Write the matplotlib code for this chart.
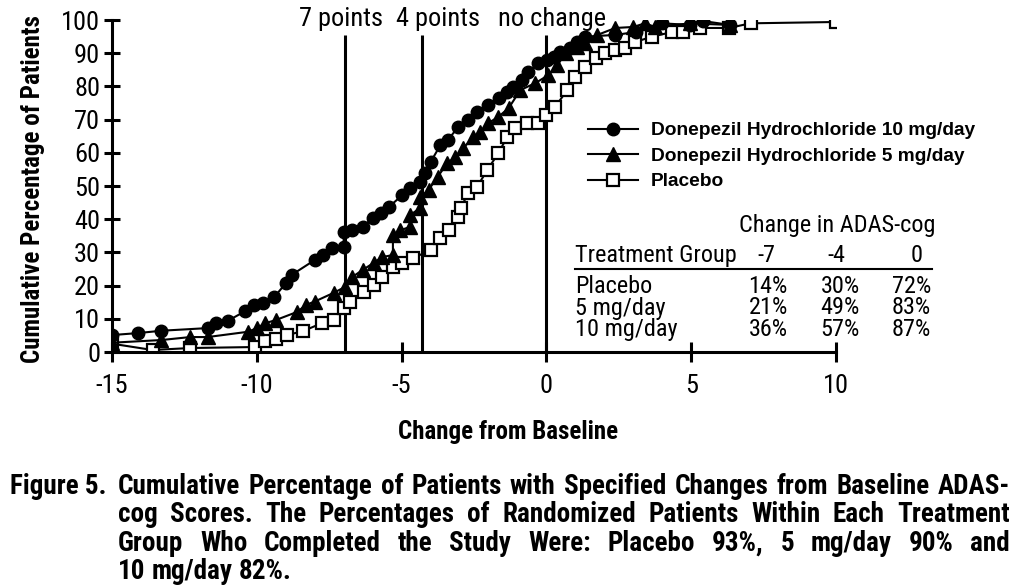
import matplotlib
matplotlib.use("Agg")
import matplotlib.pyplot as plt
from matplotlib import font_manager

# cumulative percentages
dose10_x = [-15, -14.1, -13.3, -11.7, -11.4, -11.0, -10.4, -10.1, -9.8, -9.4, -9.0, -8.8, -8.0, -7.7,
            -7.4, -7.0, -7.0, -6.7, -6.35, -6.0, -5.7, -5.45, -4.97, -4.7, -4.35, -4.2, -4.0, -3.66,
            -3.4, -3.04, -2.7, -2.4, -2.0, -1.65, -1.35, -1.14, -0.83, -0.62, -0.3, 0.03, 0.25, 0.48,
            0.83, 1.07, 1.35, 2.38, 3.1, 4.0, 4.97, 5.4, 6.35]
dose10_y = [5.1, 5.7, 6.4, 7.2, 8.6, 9.4, 12.3, 14.2, 14.9, 16.5, 20.7, 23.2, 27.7, 29.2,
            31.3, 31.6, 36.1, 36.7, 37.7, 40.3, 41.8, 43.6, 47.3, 49.3, 51.3, 53.8, 57.2, 62.3,
            63.9, 67.8, 69.9, 72.3, 74.5, 76.5, 78.4, 79.8, 81.9, 84.3, 87.0, 88.0, 88.9, 90.4,
            91.5, 93.4, 95.0, 95.5, 96.4, 99.0, 98.5, 99.7, 98.5]

dose5_x = [-15, -13.3, -12.3, -11.7, -10.3, -10.0, -9.7, -9.35, -8.6, -8.3, -8.0, -7.35, -6.95,
           -6.7, -6.35, -5.97, -5.67, -5.3, -5.3, -5.04, -4.7, -4.7, -4.35, -4.35, -4.07, -3.76,
           -3.42, -3.14, -2.87, -2.52, -2.28, -2.0, -1.66, -1.3, -0.9, -0.38, 0.07, 0.38, 0.66,
           1.07, 1.35, 1.76, 2.38, 3.0, 3.4, 3.76, 4.97, 6.35]
dose5_y = [2.8, 3.6, 4.5, 4.5, 6.1, 7.2, 8.7, 9.6, 12.1, 14.2, 15.2, 17.8, 19.6,
           22.6, 24.7, 26.8, 28.6, 29.2, 35.2, 36.7, 37.7, 41.3, 43.4, 46.7, 48.8, 52.7,
           56.9, 58.7, 61.4, 64.8, 66.3, 69.0, 70.8, 73.5, 78.9, 81.0, 83.4, 86.4, 90.0,
           91.9, 93.0, 95.5, 97.6, 97.9, 99.0, 97.9, 99.0, 98.5]

placebo_x = [-15, -13.6, -12.3, -10.05, -9.7, -9.33, -8.95, -8.4, -7.75, -7.35, -7.0, -6.77,
             -6.3, -5.97, -5.67, -5.3, -4.97, -4.6, -4.0, -3.66, -3.38, -3.04, -2.95, -2.7,
             -2.4, -2.04, -1.66, -1.35, -1.07, -0.66, -0.3, -0.03, 0.3, 0.72, 1.0, 1.35, 1.7,
             2.04, 2.38, 2.7, 3.07, 3.66, 4.35, 4.7, 5.3, 6.3, 7.05, 10.0]
placebo_y = [2.5, 0.6, 1.2, 1.5, 3.3, 3.9, 5.1, 6.3, 8.7, 9.6, 13.3, 15.1,
             18.1, 20.2, 22.6, 25.6, 26.8, 28.3, 30.7, 34.3, 36.7, 40.7, 43.5, 47.9,
             49.7, 54.8, 59.9, 64.8, 67.5, 69.0, 69.0, 71.4, 73.8, 78.9, 82.8, 85.8, 88.5,
             90.0, 91.0, 91.5, 93.4, 95.0, 96.4, 96.4, 97.6, 97.6, 99.0, 99.4]

ref_x = [-6.95, -4.3, 0]
ref_labels = ["7 points", "4 points", "no change"]
ref_label_x = [-7.08, -3.73, 0.2]

table_groups = ["Placebo", "5 mg/day", "10 mg/day"]
table_cols = ["-7", "-4", "0"]
table_vals = [["14%", "30%", "72%"],
              ["21%", "49%", "83%"],
              ["36%", "57%", "87%"]]

caption_lines = [
    "Cumulative Percentage of Patients with Specified Changes from Baseline ADAS-",
    "cog Scores. The Percentages of Randomized Patients Within Each Treatment",
    "Group Who Completed the Study Were: Placebo 93%, 5 mg/day 90% and",
    "10 mg/day 82%.",
]

W, H = 1018, 588

# pick a condensed face that has both regular and bold
weights = {}
for f in font_manager.fontManager.ttflist:
    weights.setdefault(f.name, set()).add(f.weight)
cond = "DejaVu Sans"
for cand in ["Roboto Condensed", "Liberation Sans Narrow", "Barlow Condensed", "Archivo Narrow"]:
    w = weights.get(cand, set())
    if 400 in w and 700 in w:
        cond = cand
        break
plt.rcParams["font.family"] = [cond, "DejaVu Sans"]
plt.rcParams["axes.unicode_minus"] = False


def fx(px):
    return px / W


def fy(py):
    return 1 - py / H


fig = plt.figure(figsize=(W / 100, H / 100), dpi=100)
ax = fig.add_axes([fx(112), fy(352), fx(836) - fx(112), fy(20) - fy(352)])

ax.plot(dose10_x, dose10_y, "-o", color="black", lw=1.5, ms=9, mfc="black", mec="black",
        label="Donepezil Hydrochloride 10 mg/day", zorder=4)
ax.plot(dose5_x, dose5_y, "-^", color="black", lw=1.5, ms=9.5, mfc="black", mec="black",
        label="Donepezil Hydrochloride 5 mg/day", zorder=3)
ax.plot(placebo_x, placebo_y, "-s", color="black", lw=1.5, ms=8.5, mfc="white", mec="black",
        mew=1.6, label="Placebo", zorder=2)

ax.vlines(ref_x, 0, 95.5, color="black", lw=2.2, zorder=1)
for lx, lab in zip(ref_label_x, ref_labels):
    ax.text(lx, 98.3, lab, ha="center", va="baseline", fontsize=19, clip_on=False)

ax.set_xlim(-15, 10)
ax.set_ylim(0, 100)
ax.set_xticks([-15, -10, -5, 0, 5, 10])
ax.set_yticks(range(0, 101, 10))
for s in ["top", "right"]:
    ax.spines[s].set_visible(False)
for s in ["left", "bottom"]:
    ax.spines[s].set_linewidth(2.2)
ax.tick_params(axis="x", direction="inout", length=14, width=2.2, pad=9, labelsize=19)
ax.tick_params(axis="y", direction="inout", length=11, width=2.2, pad=3, labelsize=19)

ax.set_ylabel("Cumulative Percentage of Patients", fontsize=18, fontweight="bold")
ax.yaxis.set_label_coords(-0.093, 0.49)
ax.set_xlabel("Change from Baseline", fontsize=18, fontweight="bold")
ax.xaxis.set_label_coords(0.547, -0.205)

ax.legend(loc="upper left", bbox_to_anchor=(fx(588), fy(122)), bbox_transform=fig.transFigure,
          frameon=False, borderpad=0, borderaxespad=0, handlelength=2.6, handletextpad=0.7,
          labelspacing=0.42, prop={"family": "Liberation Sans", "weight": "bold", "size": 13.8})

# small table inside the plot
tfs = 17.5
fig.text(fx(837), fy(232), "Change in ADAS-cog", ha="center", va="baseline", fontsize=tfs)
fig.text(fx(575), fy(262), "Treatment Group", ha="left", va="baseline", fontsize=tfs)
for cx, c in zip([766, 836, 917], table_cols):
    fig.text(fx(cx), fy(262), c, ha="center", va="baseline", fontsize=tfs)
fig.add_artist(plt.Line2D([fx(575), fx(932)], [fy(269), fy(269)], color="black", lw=1.5))
for r, (g, vals) in enumerate(zip(table_groups, table_vals)):
    yb = 293 + r * 21.5
    fig.text(fx(575), fy(yb), g, ha="left", va="baseline", fontsize=tfs)
    for rx, v in zip([788, 860, 931], vals):
        fig.text(fx(rx), fy(yb), v, ha="right", va="baseline", fontsize=tfs)

# caption, justified by hand
cap_kw = dict(fontsize=19.5, fontweight="bold", va="baseline")
fig.text(fx(10), fy(494), "Figure 5.", ha="left", **cap_kw)
fig.canvas.draw()
r = fig.canvas.get_renderer()
for i, line in enumerate(caption_lines):
    yb = 494 + i * 28.3
    words = line.split()
    ts = [fig.text(0, fy(yb), w, ha="left", **cap_kw) for w in words]
    widths = [t.get_window_extent(r).width for t in ts]
    if i < len(caption_lines) - 1:
        gap = (1010 - 118 - sum(widths)) / (len(words) - 1)
    else:
        gap = 6
    x = 118
    for t, w in zip(ts, widths):
        t.set_x(fx(x))
        x += w + gap

fig.savefig("out.png", dpi=100)
